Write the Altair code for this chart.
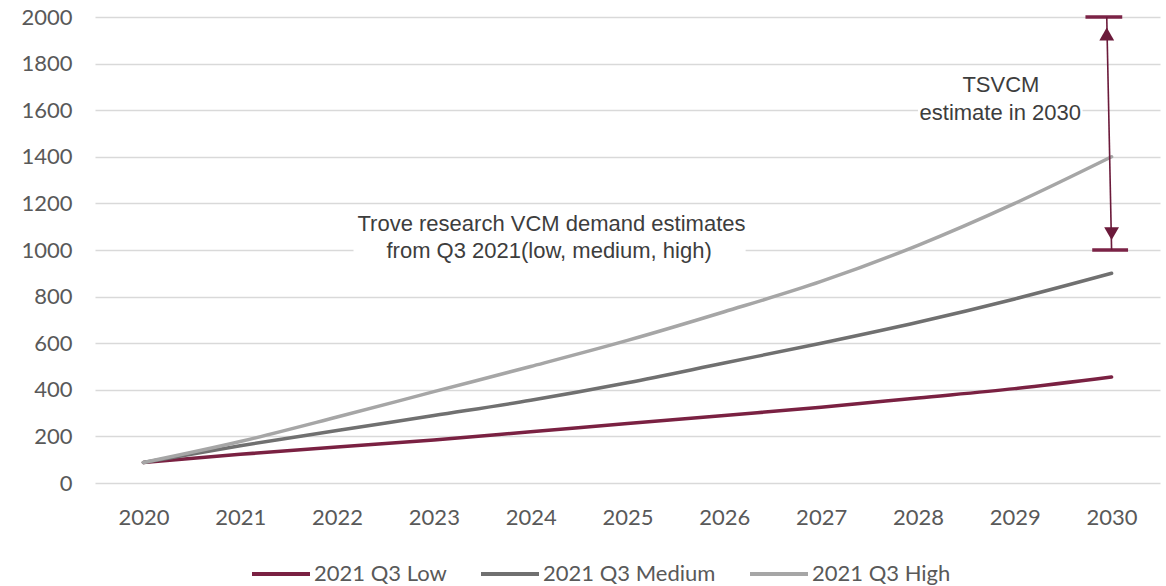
import altair as alt
import pandas as pd

# ---- data ----
years = list(range(2020, 2031))
low = [88, 123, 155, 185, 220, 255, 290, 325, 365, 405, 455]
medium = [88, 160, 225, 290, 355, 430, 515, 600, 690, 790, 900]
high = [88, 178, 283, 392, 500, 612, 735, 865, 1020, 1200, 1400]

series_names = ["2021 Q3 Low", "2021 Q3 Medium", "2021 Q3 High"]
series_colors = ["#7a2142", "#707070", "#a6a6a6"]

y_ticks = list(range(0, 2001, 200))

# annotation texts (positions in data units)
ann_text = ["Trove research VCM demand estimates", "from Q3 2021(low, medium, high)",
            "TSVCM", "estimate in 2030"]
ann_x = [2024.215, 2024.19, 2028.857, 2028.85]
ann_y = [1112, 995, 1707, 1587]

# white boxes behind annotation text
box_x = [2022.17, 2028.0]
box_x2 = [2026.22, 2029.7]
box_y = [936, 1536]
box_y2 = [1180, 1771]

# TSVCM range bars and arrow (data units)
bar_x = [2029.73, 2029.80]
bar_x2 = [2030.11, 2030.17]
bar_y = [2000, 1000]
arrow_x = [2029.95]
arrow_x2 = [2030.0]
arrow_y = [2000]
arrow_y2 = [1000]
head_x = [2029.95, 2030.0]
head_y = [1927, 1070]
head_shape = ["triangle-up", "triangle-down"]

# ---- tables ----
rows = []
for name, vals in zip(series_names, [low, medium, high]):
    for yr, v in zip(years, vals):
        rows.append({"year": yr, "value": v, "series": name})
df = pd.DataFrame(rows)

ann_df = pd.DataFrame({"x": ann_x, "y": ann_y, "text": ann_text})
box_df = pd.DataFrame({"x": box_x, "x2": box_x2, "y": box_y, "y2": box_y2})
bar_df = pd.DataFrame({"x": bar_x, "x2": bar_x2, "y": bar_y})
arrow_df = pd.DataFrame({"x": arrow_x, "x2": arrow_x2, "y": arrow_y, "y2": arrow_y2})
head_df = pd.DataFrame({"x": head_x, "y": head_y, "shape": head_shape})

x_scale = alt.Scale(domain=[2019.5, 2030.5], nice=False, zero=False)
y_scale = alt.Scale(domain=[0, 2000], nice=False)

x_axis = alt.Axis(values=years, format="d", grid=False, domain=False, ticks=False,
                  labelFont="Lato", labelFontSize=22, labelColor="#595959",
                  labelPadding=24, title=None)
y_axis = alt.Axis(values=y_ticks, format="d", grid=True, gridColor="#d9d9d9", gridWidth=1.5,
                  domain=False, ticks=False, labelFont="Lato", labelFontSize=22,
                  labelColor="#595959", labelPadding=23, title=None)

boxes = alt.Chart(box_df).mark_rect(fill="white").encode(
    x=alt.X("x:Q", scale=x_scale, axis=x_axis),
    x2="x2:Q",
    y=alt.Y("y:Q", scale=y_scale, axis=y_axis),
    y2="y2:Q",
)

lines = alt.Chart(df).mark_line(strokeWidth=3.5, strokeCap="round", interpolate="monotone").encode(
    x=alt.X("year:Q", scale=x_scale, axis=x_axis),
    y=alt.Y("value:Q", scale=y_scale, axis=y_axis),
    color=alt.Color(
        "series:N",
        scale=alt.Scale(domain=series_names, range=series_colors),
        sort=series_names,
        legend=alt.Legend(
            orient="none", legendX=155, legendY=526, direction="horizontal",
            symbolType="stroke", symbolSize=3364, symbolStrokeWidth=4,
            labelFont="Lato", labelFontSize=22, labelColor="#595959",
            labelOffset=2, columnPadding=26, padding=0, labelLimit=400, title=None,
        ),
    ),
)

bars = alt.Chart(bar_df).mark_rule(color="#7b2346", strokeWidth=3.5).encode(
    x=alt.X("x:Q", scale=x_scale), x2="x2:Q", y=alt.Y("y:Q", scale=y_scale)
)

arrow = alt.Chart(arrow_df).mark_rule(color="#6b1a3a", strokeWidth=1.6).encode(
    x=alt.X("x:Q", scale=x_scale), x2="x2:Q",
    y=alt.Y("y:Q", scale=y_scale), y2="y2:Q"
)

heads = alt.Chart(head_df).mark_point(filled=True, size=220, color="#6b1a3a", opacity=1).encode(
    x=alt.X("x:Q", scale=x_scale), y=alt.Y("y:Q", scale=y_scale),
    shape=alt.Shape("shape:N", scale=None)
)

texts = alt.Chart(ann_df).mark_text(font="Liberation Sans", fontSize=22, color="#3d3d3d",
                                   align="center", baseline="middle").encode(
    x=alt.X("x:Q", scale=x_scale), y=alt.Y("y:Q", scale=y_scale), text="text:N"
)

chart = alt.layer(boxes, lines, bars, arrow, heads, texts).properties(
    width=1065, height=466,
    autosize=alt.AutoSizeParams(type="none"),
    padding={"left": 95, "top": 17, "right": 6, "bottom": 103},
).configure_view(strokeWidth=0)

chart.save("out.html", embed_options={"renderer": "svg", "actions": False})
